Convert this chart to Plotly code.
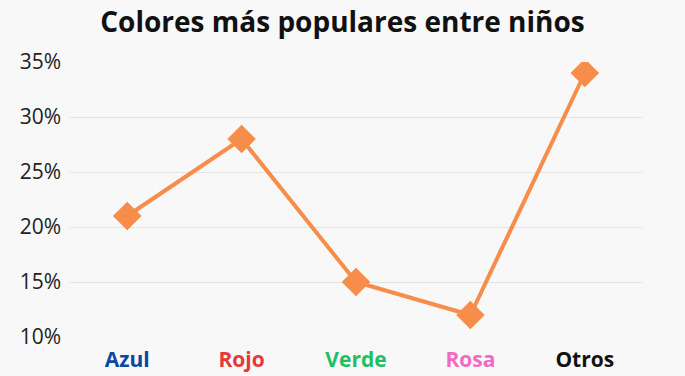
import plotly.graph_objects as go

categories = ["Azul", "Rojo", "Verde", "Rosa", "Otros"]
label_colors = ["#0b47a0", "#e8363a", "#1fbf62", "#f06ac2", "#111111"]
values = [21, 28, 15, 12, 34]
y_ticks = [10, 15, 20, 25, 30, 35]
y_tick_labels = ["10%", "15%", "20%", "25%", "30%", "35%"]

x_pos = list(range(len(categories)))
tick_text = [f"<span style='color:{c}'><b>{n}</b></span>" for n, c in zip(categories, label_colors)]

fig = go.Figure(go.Scatter(
    x=x_pos, y=values, mode="lines+markers",
    line=dict(color="#f68d4a", width=4),
    marker=dict(symbol="diamond", size=22, color="#f68d4a"),
    hoverinfo="skip",
))

fig.update_layout(
    width=685, height=376,
    paper_bgcolor="#f8f8f8", plot_bgcolor="#f8f8f8",
    margin=dict(l=70, r=43, t=62, b=39),
    showlegend=False,
    font=dict(family="Open Sans", color="#222222"),
    title=dict(text="<b>Colores más populares entre niños</b>", x=0.5, xanchor="center",
               yref="container", y=1 - 22 / 376, yanchor="middle",
               font=dict(size=28, color="#111111", family="Open Sans")),
    xaxis=dict(range=[-0.5, 4.5], tickmode="array", tickvals=x_pos, ticktext=tick_text,
               showgrid=False, zeroline=False, showline=False, ticks="",
               ticklabelstandoff=8, automargin=False,
               tickfont=dict(size=21, family="Open Sans")),
    yaxis=dict(range=[10, 35], tickmode="array", tickvals=y_ticks, ticktext=y_tick_labels,
               showgrid=True, gridcolor="#e4e4e4", gridwidth=1, zeroline=False,
               ticks="", ticklabelstandoff=8, automargin=False,
               tickfont=dict(size=21, color="#222222", family="Open Sans")),
)

fig.write_html(
    "out.html",
    config={"displayModeBar": False},
    post_script="document.body.style.margin='0';document.body.style.background='#f8f8f8';",
)
